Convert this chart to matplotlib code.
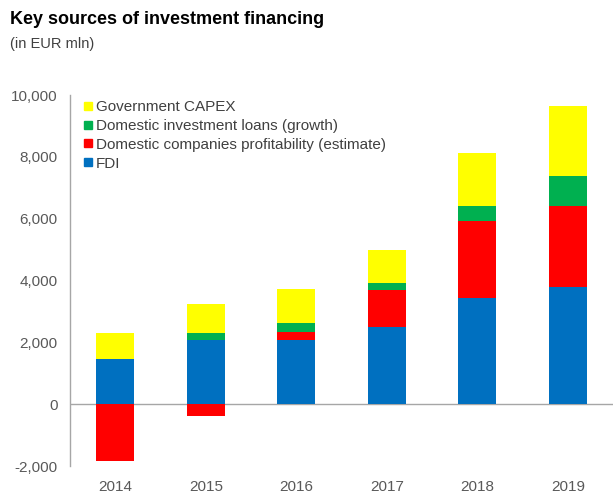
import matplotlib
matplotlib.use("Agg")
import matplotlib.pyplot as plt
from matplotlib.lines import Line2D
import numpy as np

plt.rcParams['font.family'] = ['Liberation Sans', 'DejaVu Sans']

years = ["2014", "2015", "2016", "2017", "2018", "2019"]
fdi = [1470, 2070, 2070, 2500, 3420, 3780]
profitability = [-1830, -390, 280, 1190, 2500, 2620]
loans = [0, 245, 260, 215, 480, 970]
capex = [835, 925, 1110, 1095, 1727, 2270]

series = [
    ("FDI", fdi, "#0070C0"),
    ("Domestic companies profitability (estimate)", profitability, "#FF0000"),
    ("Domestic investment loans (growth)", loans, "#00B050"),
    ("Government CAPEX", capex, "#FFFF00"),
]

fig = plt.figure(figsize=(6.13, 5.01), dpi=100)
ax = fig.add_axes([70 / 613, 1 - 466 / 501, 543 / 613, (466 - 95) / 501])

x = np.arange(len(years))
pos_base = np.zeros(len(years))
neg_base = np.zeros(len(years))
for name, vals, color in series:
    v = np.array(vals, dtype=float)
    bottom = np.where(v >= 0, pos_base, neg_base)
    ax.bar(x, v, width=0.415, bottom=bottom, color=color, zorder=2)
    pos_base += np.where(v >= 0, v, 0)
    neg_base += np.where(v < 0, v, 0)

ax.set_xlim(-0.5, len(years) - 0.5)
ax.set_ylim(-2000, 10000)
ax.set_yticks(range(-2000, 10001, 2000))
ax.yaxis.set_major_formatter(matplotlib.ticker.FuncFormatter(lambda v, p: f"{int(v):,}"))
ax.axhline(0, color="#A6A6A6", lw=1.0, zorder=1)

for s in ["top", "right", "bottom"]:
    ax.spines[s].set_visible(False)
ax.spines["left"].set_color("#A6A6A6")
ax.spines["left"].set_linewidth(1.0)

ax.set_xticks(x)
ax.set_xticklabels(years)
ax.tick_params(axis="x", length=0, pad=10, labelsize=11, labelcolor="#595959")
ax.tick_params(axis="y", length=0, pad=9, labelsize=11, labelcolor="#595959")

handles = [Line2D([], [], marker="s", linestyle="none", markersize=6,
                  markerfacecolor=c, markeredgecolor=c)
           for _, _, c in reversed(series)]
labels = [n for n, _, _ in reversed(series)]
fig.legend(handles, labels, loc="upper left", bbox_to_anchor=(83 / 613, 1 - 100 / 501),
           frameon=False, fontsize=11, handlelength=0.6, handletextpad=0.25,
           labelspacing=0.32, borderpad=0, borderaxespad=0, labelcolor="#404040")

fig.text(10 / 613, 1 - 20 / 501, "Key sources of investment financing",
         fontsize=13, fontweight="bold", va="center", ha="left", color="#000000")
fig.text(10 / 613, 1 - 44 / 501, "(in EUR mln)",
         fontsize=10.5, va="center", ha="left", color="#404040")

fig.savefig("out.png", dpi=100)
